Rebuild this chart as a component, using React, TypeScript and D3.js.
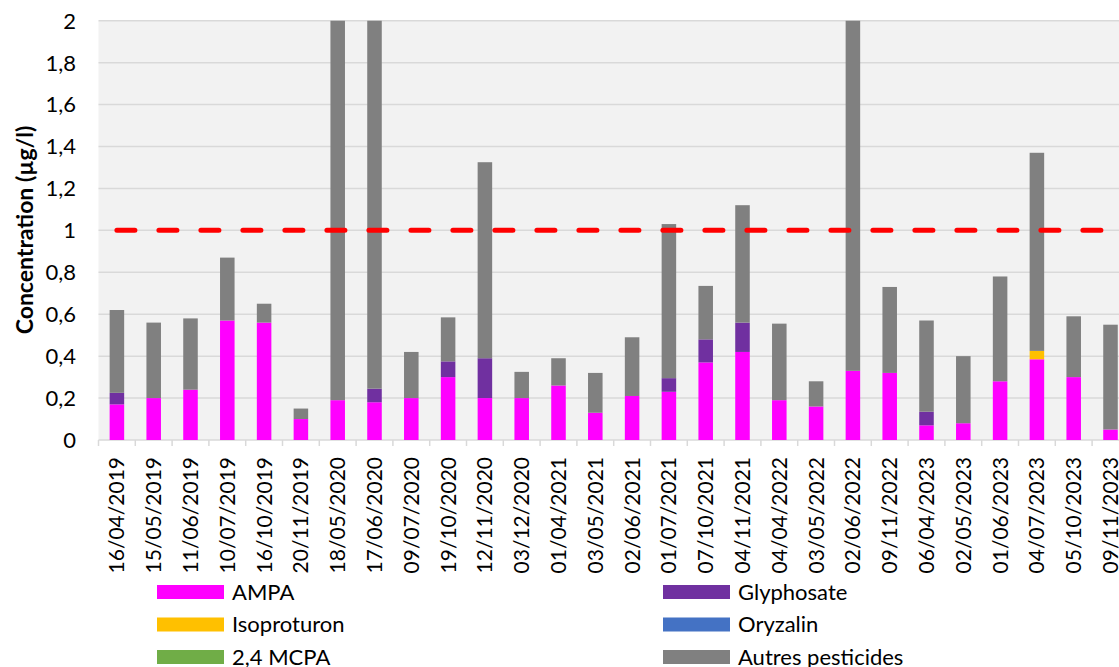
import React from "react";
import * as d3 from "d3";

const dates = [
  "16/04/2019", "15/05/2019", "11/06/2019", "10/07/2019", "16/10/2019", "20/11/2019",
  "18/05/2020", "17/06/2020", "09/07/2020", "19/10/2020", "12/11/2020", "03/12/2020",
  "01/04/2021", "03/05/2021", "02/06/2021", "01/07/2021", "07/10/2021", "04/11/2021",
  "04/04/2022", "03/05/2022", "02/06/2022", "09/11/2022", "06/04/2023", "02/05/2023",
  "01/06/2023", "04/07/2023", "05/10/2023", "09/11/2023",
];

const ampa = [
  0.17, 0.2, 0.24, 0.57, 0.56, 0.1, 0.19, 0.18, 0.2, 0.3, 0.2, 0.2,
  0.26, 0.13, 0.21, 0.23, 0.37, 0.42, 0.19, 0.16, 0.33, 0.32, 0.07, 0.08,
  0.28, 0.385, 0.3, 0.05,
];
const glyphosate = [
  0.055, 0, 0, 0, 0, 0, 0, 0.065, 0, 0.075, 0.19, 0,
  0, 0, 0, 0.065, 0.11, 0.14, 0, 0, 0, 0, 0.065, 0,
  0, 0, 0, 0,
];
const isoproturon = [
  0, 0, 0, 0, 0, 0, 0, 0, 0, 0, 0, 0,
  0, 0, 0, 0, 0, 0, 0, 0, 0, 0, 0, 0,
  0, 0.04, 0, 0,
];
const oryzalin = dates.map(() => 0);
const mcpa = dates.map(() => 0);
const autres = [
  0.395, 0.36, 0.34, 0.3, 0.09, 0.05, 2.6, 2.4, 0.22, 0.21, 0.935, 0.125,
  0.13, 0.19, 0.28, 0.735, 0.255, 0.56, 0.365, 0.12, 2.3, 0.41, 0.435, 0.32,
  0.5, 0.945, 0.29, 0.5,
];
const limit = 1;

const series = [
  { name: "AMPA", color: "#ff00ff", values: ampa },
  { name: "Glyphosate", color: "#7030a0", values: glyphosate },
  { name: "Isoproturon", color: "#ffc000", values: isoproturon },
  { name: "Oryzalin", color: "#4472c4", values: oryzalin },
  { name: "2,4 MCPA", color: "#70ad47", values: mcpa },
  { name: "Autres pesticides", color: "#808080", values: autres },
];

const yTicks = [0, 0.2, 0.4, 0.6, 0.8, 1, 1.2, 1.4, 1.6, 1.8, 2];

const width = 1119;
const height = 667;
const margin = { top: 20.7, left: 98.5, bottom: 440 };
const plotRight = 98.5 + 36.8 * dates.length;
const font = "Lato, 'Open Sans', sans-serif";

const App = () => {
  const x = d3.scaleBand().domain(dates).range([margin.left, plotRight]).padding(0);
  const y = d3.scaleLinear().domain([0, 2]).range([margin.bottom, margin.top]);
  const barW = x.bandwidth() * 0.395;

  const rows = dates.map((d, i) => {
    const r: any = { date: d };
    series.forEach((s) => (r[s.name] = s.values[i]));
    return r;
  });
  const stack = d3.stack().keys(series.map((s) => s.name))(rows);

  const fmt = (v: number) => String(v).replace(".", ",");
  const limitLine = d3
    .line<string>()
    .x((d) => (x(d) as number) + x.bandwidth() / 2)
    .y(() => y(limit));

  return (
    <svg width={width} height={height} style={{ position: "absolute", left: 0, top: 0, background: "#fff" }}>
      <defs>
        <clipPath id="plot">
          <rect x={margin.left} y={margin.top} width={plotRight - margin.left} height={margin.bottom - margin.top} />
        </clipPath>
      </defs>
      <rect x={margin.left} y={margin.top} width={plotRight - margin.left} height={margin.bottom - margin.top} fill="#f2f2f2" />
      {yTicks.map((t) => (
        <g key={t}>
          <line x1={margin.left} x2={plotRight} y1={y(t)} y2={y(t)} stroke="#d9d9d9" strokeWidth={1.5} />
          <text x={76} y={y(t)} dy="0.36em" textAnchor="end" fontFamily={font} fontSize={22} fill="#000">
            {fmt(t)}
          </text>
        </g>
      ))}
      {dates.map((d, i) => (
        <line key={d} x1={margin.left + 36.8 * i} x2={margin.left + 36.8 * i} y1={margin.bottom} y2={margin.bottom + 6} stroke="#d9d9d9" strokeWidth={1.5} />
      ))}
      <g clipPath="url(#plot)">
        {stack.map((layer, li) => (
          <g key={layer.key} fill={series[li].color}>
            {layer.map((seg, i) =>
              seg[1] - seg[0] > 0 ? (
                <rect
                  key={i}
                  x={(x(dates[i]) as number) + (x.bandwidth() - barW) / 2}
                  y={y(seg[1])}
                  width={barW}
                  height={y(seg[0]) - y(seg[1])}
                />
              ) : null
            )}
          </g>
        ))}
        <path d={limitLine(dates) as string} stroke="#ff0000" strokeWidth={5} strokeDasharray="18 24" strokeLinecap="round" fill="none" />
      </g>
      {dates.map((d) => (
        <text
          key={d}
          transform={`translate(${(x(d) as number) + x.bandwidth() / 2},457) rotate(-90)`}
          dy="0.36em"
          textAnchor="end"
          fontFamily={font}
          fontSize={21}
          fill="#000"
        >
          {d}
        </text>
      ))}
      <text
        transform={`translate(25,230) rotate(-90)`}
        dy="0.35em"
        textAnchor="middle"
        fontFamily={font}
        fontSize={23}
        fontWeight="bold"
        fill="#000"
      >
        Concentration (µg/l)
      </text>
      {series.map((s, i) => {
        const col = i % 2;
        const row = Math.floor(i / 2);
        const lx = col === 0 ? 157 : 663;
        const ly = 592 + row * 32.5;
        return (
          <g key={s.name}>
            <rect x={lx} y={ly - 7} width={67} height={14} fill={s.color} />
            <text x={lx + 75} y={ly} dy="0.36em" fontFamily={font} fontSize={22} fill="#000">
              {s.name}
            </text>
          </g>
        );
      })}
    </svg>
  );
};

export default App;
